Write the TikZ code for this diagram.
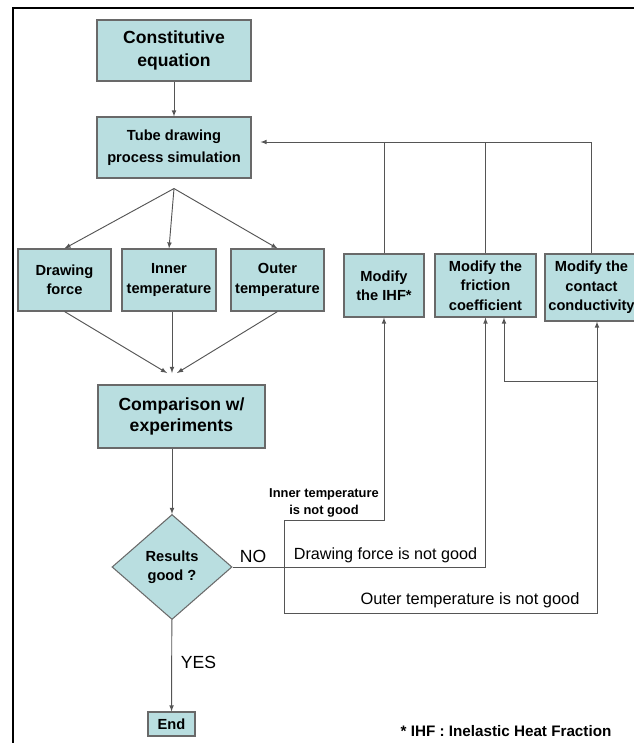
\documentclass[tikz,border=0pt]{standalone}
\usepackage{fontspec}
\setmainfont{Liberation Sans}
\usetikzlibrary{shapes.geometric}

\definecolor{boxfill}{RGB}{185,222,224}
\definecolor{boxline}{RGB}{105,105,105}
\definecolor{linegray}{RGB}{85,85,85}

\begin{document}
\begin{tikzpicture}[x=0.03cm, y=-0.03cm, >=latex,
    box/.style={draw=boxline, line width=0.9pt, fill=boxfill, align=center, inner sep=0pt,
        font=\bfseries\fontsize{12.5}{16.5}\selectfont},
    bigbox/.style={box, font=\bfseries\fontsize{15}{19}\selectfont},
    arr/.style={->, draw=linegray, line width=0.8pt},
    link/.style={draw=linegray, line width=0.8pt},
    lbl/.style={inner sep=0pt, font=\fontsize{14}{17}\selectfont},
    smalllbl/.style={inner sep=0pt, align=center, font=\bfseries\fontsize{11}{14}\selectfont}]
    \useasboundingbox (0,0) rectangle (634,743);

    % Frame
    \draw[line width=2pt] (13,743) -- (13,8) -- (634,8);

    % Model and simulation
    \node[bigbox, minimum width=4.62cm, minimum height=1.83cm] (cons) at (174,50.5) {Constitutive\\equation};
    \node[box, minimum width=4.62cm, minimum height=1.83cm, font=\bfseries\fontsize{12.5}{18.5}\selectfont] (tube) at (174,147.5) {Tube drawing\\process simulation};

    % Outputs
    \node[box, minimum width=2.79cm, minimum height=1.86cm] (force) at (64.5,280) {Drawing\\force};
    \node[box, minimum width=2.82cm, minimum height=1.86cm] (inner) at (169,280) {Inner\\temperature};
    \node[box, minimum width=2.79cm, minimum height=1.86cm] (outer) at (277.5,280) {Outer\\temperature};

    % Modifications
    \node[box, minimum width=2.4cm, minimum height=1.89cm] (ihf) at (384,285.5) {Modify\\the IHF*};
    \node[box, minimum width=3.03cm, minimum height=1.89cm] (fric) at (485.5,285.5) {Modify the\\friction\\coefficient};
    \node[box, minimum width=2.79cm, minimum height=2.01cm] (cont) at (591.5,287.5) {Modify the\\contact\\conductivity};

    % Comparison and decision
    \node[bigbox, minimum width=5.01cm, minimum height=1.89cm, font=\bfseries\fontsize{15}{18}\selectfont] (comp) at (181.5,416.5) {Comparison w/\\experiments};
    \node[box, diamond, minimum width=3.6cm, minimum height=3.15cm] (res) at (172,567) {Results\\good ?};
    \node[box, minimum width=1.41cm, minimum height=0.72cm] (end) at (171.5,724) {End};

    % Labels
    \node[lbl, font=\fontsize{15}{18}\selectfont] (no) at (253,556) {NO};
    \node[lbl, font=\fontsize{15}{18}\selectfont] (yes) at (198.5,662) {YES};
    \node[smalllbl] (innerlbl) at (324,503) {Inner temperature\\is not good};
    \node[lbl, font=\fontsize{13.8}{17}\selectfont] (forcelbl) at (385.5,555) {Drawing force is not good};
    \node[lbl] (outerlbl) at (470,600) {Outer temperature is not good};
    \node[lbl, font=\bfseries\fontsize{13}{16}\selectfont] (ihfnote) at (506,731) {* IHF : Inelastic Heat Fraction};

    % Helper points
    \coordinate (split) at ([yshift=-0.3cm]tube.south);
    \coordinate (join) at (172,373);
    \coordinate (fb) at ([shift={(9,-5.5)}]tube.east);
    \coordinate (fork) at (284,567);
    \coordinate (innerturn) at (284,520);
    \coordinate (outerturn) at (284,613);
    \coordinate (obranch) at (597,381);

    % Arrows
    \draw[arr] (cons) -- (tube);
    \foreach \n in {force, inner, outer}
        \draw[arr] (split) -- (\n.north);
    \draw[arr] (force.south) -- ([xshift=-0.15cm]join);
    \draw[arr] (inner.south -| join) -- (join);
    \draw[arr] (outer.south) -- ([xshift=0.15cm]join);
    \draw[arr] (comp.south -| res) -- (res);
    \draw[arr] (res) -- (end);

    % Feedback
    \draw[arr] (res.east) -| (fric.south);
    \draw[arr] (fork) -- (innerturn) -| (ihf.south);
    \draw[arr] (fork) -- (outerturn) -| ([xshift=0.165cm]cont.south);
    \draw[arr] (obranch) -| ([xshift=0.555cm]fric.south);
    \draw[arr] (cont.north) |- (fb);
    \draw[link] (ihf.north) -- (ihf.north |- fb);
    \draw[link] (fric.north) -- (fric.north |- fb);
\end{tikzpicture}
\end{document}
